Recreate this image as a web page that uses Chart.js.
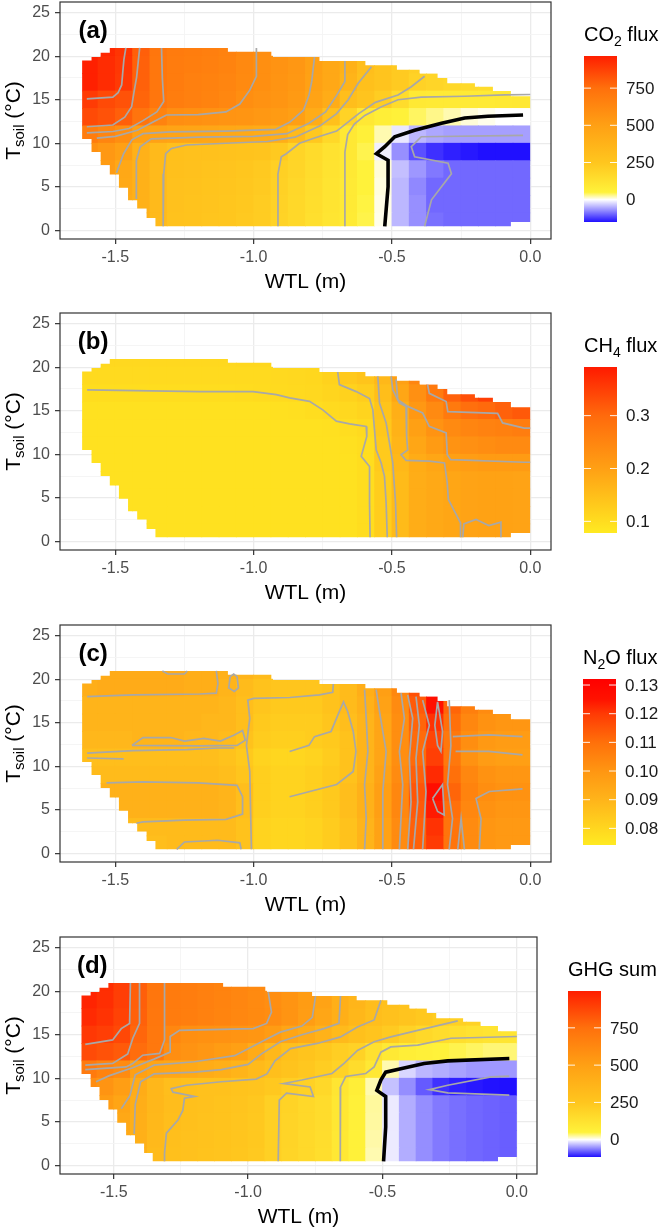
<!DOCTYPE html>
<html>
<head>
<meta charset="utf-8">
<title>GHG flux surfaces</title>
<script src="https://cdn.jsdelivr.net/npm/chart.js@4.4.1/dist/chart.umd.min.js"></script>
<style>
  body { margin: 0; background: #fff; }
  #page { position: relative; width: 664px; height: 1229px; overflow: hidden; }
  .panel { position: absolute; left: 0; width: 664px; height: 294px; }
</style>
</head>
<body>
<div id="page">
  <div class="panel" style="top:0px"><canvas id="panelA"></canvas></div>
  <div class="panel" style="top:311px"><canvas id="panelB"></canvas></div>
  <div class="panel" style="top:623px"><canvas id="panelC"></canvas></div>
  <div class="panel" style="top:935px"><canvas id="panelD"></canvas></div>
</div>
<script>
// ---- data ----
var xGrid = [-1.5, -1.25, -1.0, -0.75, -0.5, -0.25, 0.0];
var yGrid = [0, 2.5, 5, 7.5, 10, 12.5, 15, 17.5, 20, 22.5, 25];

// centres of the value cells (WTL in m, Tsoil in degC)
var wtlCentres = [-1.59375, -1.53125, -1.46875, -1.40625, -1.34375, -1.28125, -1.21875, -1.15625, -1.09375, -1.03125, -0.96875, -0.90625, -0.84375, -0.78125, -0.71875, -0.65625, -0.59375, -0.53125, -0.46875, -0.40625, -0.34375, -0.28125, -0.21875, -0.15625, -0.09375, -0.03125];
var tsoilCentres = [21, 19, 17, 15, 13, 11, 9, 7, 5, 3, 1];
var cellW = 0.0625, cellH = 2;

// outline of the sampled WTL / Tsoil space
var domainWtl = [-1.620, -1.620, -1.586, -1.586, -1.553, -1.553, -1.520, -1.520, -1.093, -1.093, -0.930, -0.930, -0.762, -0.762, -0.596, -0.596, -0.482, -0.482, -0.400, -0.400, -0.335, -0.335, -0.300, -0.300, -0.200, -0.200, -0.135, -0.135, -0.070, -0.070, 0, 0, -0.070, -0.070, -1.355, -1.355, -1.387, -1.387, -1.421, -1.421, -1.454, -1.454, -1.487, -1.487, -1.520, -1.520, -1.553, -1.553, -1.586, -1.586];
var domainTsoil = [10.5, 19.5, 19.5, 19.9, 19.9, 20.4, 20.4, 20.95, 20.95, 20.5, 20.5, 19.9, 19.9, 19.45, 19.45, 18.95, 18.95, 18.45, 18.45, 18.0, 18.0, 17.5, 17.5, 16.9, 16.9, 16.5, 16.5, 16.0, 16.0, 15.4, 15.4, 0.96, 0.96, 0.46, 0.46, 1.4, 1.4, 2.5, 2.5, 3.45, 3.45, 4.9, 4.9, 6.4, 6.4, 7.5, 7.5, 9.0, 9.0, 10.5];

var co2Grid = [
  [null, 940, 905, 795, 720, 695, 680, 670, 655, 625, 595, null, null, null, null, null, null, null, null, null, null, null, null, null, null, null],
  [960, 930, 900, 790, 715, 690, 675, 665, 650, 620, 590, 570, 545, 500, 450, 390, 305, 260, 230, 210, 195, null, null, null, null, null],
  [960, 930, 895, 790, 715, 685, 665, 655, 640, 615, 590, 565, 540, 495, 445, 370, 290, 260, 230, 195, 180, 170, 160, 150, 140, null],
  [890, 850, 830, 780, 720, 680, 665, 650, 630, 595, 575, 555, 530, 480, 420, 300, 260, 220, 150, 90, 85, 85, 85, 85, 90, 95],
  [850, 830, 795, 730, 650, 595, 585, 575, 565, 555, 540, 525, 505, 420, 290, 190, 95, 70, 55, 40, 30, 20, 10, 5, 0, 0],
  [690, 640, 595, 500, 485, 475, 465, 458, 450, 440, 430, 405, 330, 240, 170, 95, 60, 20, -15, -45, -55, -60, -60, -60, -60, -60],
  [580, 540, 500, 385, 330, 290, 285, 280, 275, 270, 260, 235, 185, 155, 125, 95, 45, -10, -70, -110, -130, -140, -145, -150, -150, -150],
  [null, 520, 450, 390, 330, 290, 280, 270, 260, 250, 235, 205, 180, 150, 120, 90, 50, 10, -40, -65, -85, -95, -95, -95, -95, -95],
  [null, null, 440, 390, 330, 285, 275, 265, 255, 245, 230, 200, 175, 145, 115, 88, 50, 8, -45, -75, -95, -95, -95, -95, -95, -95],
  [null, null, 430, 390, 330, 280, 270, 260, 250, 240, 225, 195, 170, 140, 112, 85, 48, 6, -45, -70, -95, -95, -95, -95, -95, -95],
  [null, null, null, 390, 328, 278, 268, 258, 248, 238, 222, 192, 168, 138, 110, 84, 46, 5, -45, -70, -90, -95, -95, -95, -95, -95]
];
var ch4Grid = [
  [null, 0.108, 0.108, 0.108, 0.108, 0.108, 0.108, 0.108, 0.108, 0.109, 0.110, null, null, null, null, null, null, null, null, null, null, null, null, null, null, null],
  [0.104, 0.104, 0.104, 0.104, 0.104, 0.104, 0.104, 0.104, 0.104, 0.105, 0.105, 0.106, 0.108, 0.110, 0.118, 0.132, 0.140, 0.160, 0.200, 0.250, 0.290, null, null, null, null, null],
  [0.100, 0.100, 0.100, 0.100, 0.100, 0.100, 0.100, 0.100, 0.100, 0.101, 0.102, 0.104, 0.106, 0.108, 0.112, 0.118, 0.125, 0.150, 0.190, 0.230, 0.270, 0.310, 0.330, 0.350, 0.360, null],
  [0.093, 0.093, 0.093, 0.093, 0.093, 0.093, 0.093, 0.093, 0.093, 0.093, 0.093, 0.094, 0.096, 0.100, 0.104, 0.107, 0.115, 0.140, 0.175, 0.215, 0.240, 0.270, 0.290, 0.300, 0.310, 0.320],
  [0.093, 0.093, 0.093, 0.093, 0.093, 0.093, 0.093, 0.093, 0.093, 0.093, 0.093, 0.093, 0.093, 0.093, 0.094, 0.099, 0.105, 0.135, 0.170, 0.200, 0.225, 0.240, 0.250, 0.255, 0.260, 0.265],
  [0.093, 0.093, 0.093, 0.093, 0.093, 0.093, 0.093, 0.093, 0.093, 0.093, 0.093, 0.093, 0.093, 0.093, 0.093, 0.095, 0.100, 0.130, 0.165, 0.190, 0.210, 0.225, 0.230, 0.235, 0.240, 0.240],
  [0.093, 0.093, 0.093, 0.093, 0.093, 0.093, 0.093, 0.093, 0.093, 0.093, 0.093, 0.093, 0.093, 0.093, 0.093, 0.093, 0.100, 0.130, 0.160, 0.180, 0.190, 0.200, 0.205, 0.210, 0.210, 0.210],
  [null, 0.093, 0.093, 0.093, 0.093, 0.093, 0.093, 0.093, 0.093, 0.093, 0.093, 0.093, 0.093, 0.093, 0.093, 0.093, 0.100, 0.125, 0.155, 0.178, 0.185, 0.190, 0.195, 0.197, 0.197, 0.195],
  [null, null, 0.093, 0.093, 0.093, 0.093, 0.093, 0.093, 0.093, 0.093, 0.093, 0.093, 0.093, 0.093, 0.093, 0.093, 0.100, 0.125, 0.155, 0.178, 0.185, 0.190, 0.195, 0.197, 0.197, 0.195],
  [null, null, 0.093, 0.093, 0.093, 0.093, 0.093, 0.093, 0.093, 0.093, 0.093, 0.093, 0.093, 0.093, 0.093, 0.093, 0.100, 0.125, 0.155, 0.178, 0.185, 0.190, 0.195, 0.197, 0.197, 0.195],
  [null, null, null, 0.093, 0.093, 0.093, 0.093, 0.093, 0.093, 0.093, 0.093, 0.093, 0.093, 0.093, 0.093, 0.093, 0.100, 0.125, 0.155, 0.178, 0.185, 0.190, 0.195, 0.197, 0.197, 0.195]
];
var n2oGrid = [
  [null, 0.093, 0.093, 0.093, 0.093, 0.093, 0.092, 0.092, 0.091, 0.090, 0.088, null, null, null, null, null, null, null, null, null, null, null, null, null, null, null],
  [0.092, 0.093, 0.093, 0.093, 0.093, 0.093, 0.092, 0.092, 0.090, 0.088, 0.086, 0.085, 0.085, 0.085, 0.086, 0.088, 0.092, 0.097, 0.104, 0.116, 0.128, null, null, null, null, null],
  [0.090, 0.090, 0.090, 0.090, 0.090, 0.090, 0.090, 0.090, 0.089, 0.087, 0.085, 0.084, 0.084, 0.084, 0.086, 0.088, 0.091, 0.096, 0.103, 0.114, 0.126, 0.112, 0.106, 0.103, 0.102, null],
  [0.090, 0.090, 0.090, 0.090, 0.090, 0.090, 0.090, 0.089, 0.089, 0.087, 0.084, 0.083, 0.083, 0.083, 0.085, 0.087, 0.090, 0.095, 0.102, 0.112, 0.121, 0.110, 0.104, 0.101, 0.100, 0.100],
  [0.089, 0.089, 0.089, 0.090, 0.090, 0.090, 0.089, 0.089, 0.088, 0.086, 0.083, 0.082, 0.082, 0.083, 0.084, 0.086, 0.090, 0.095, 0.102, 0.111, 0.118, 0.108, 0.102, 0.099, 0.098, 0.098],
  [0.087, 0.087, 0.087, 0.087, 0.087, 0.087, 0.087, 0.087, 0.086, 0.084, 0.081, 0.080, 0.080, 0.081, 0.083, 0.086, 0.090, 0.095, 0.102, 0.111, 0.119, 0.108, 0.101, 0.098, 0.097, 0.097],
  [0.088, 0.088, 0.088, 0.088, 0.088, 0.088, 0.088, 0.088, 0.087, 0.085, 0.082, 0.081, 0.081, 0.082, 0.084, 0.086, 0.090, 0.096, 0.103, 0.113, 0.122, 0.110, 0.104, 0.101, 0.100, 0.100],
  [null, 0.091, 0.091, 0.091, 0.091, 0.091, 0.091, 0.091, 0.090, 0.087, 0.082, 0.081, 0.081, 0.082, 0.084, 0.087, 0.091, 0.097, 0.104, 0.115, 0.127, 0.112, 0.105, 0.102, 0.101, 0.101],
  [null, null, 0.091, 0.091, 0.091, 0.091, 0.091, 0.091, 0.090, 0.087, 0.082, 0.081, 0.081, 0.082, 0.084, 0.087, 0.091, 0.097, 0.104, 0.114, 0.124, 0.110, 0.104, 0.101, 0.100, 0.100],
  [null, null, 0.088, 0.088, 0.088, 0.088, 0.088, 0.088, 0.088, 0.086, 0.081, 0.080, 0.080, 0.081, 0.083, 0.086, 0.090, 0.096, 0.103, 0.113, 0.121, 0.109, 0.103, 0.100, 0.099, 0.099],
  [null, null, null, 0.087, 0.087, 0.088, 0.088, 0.088, 0.088, 0.086, 0.081, 0.080, 0.080, 0.081, 0.083, 0.086, 0.090, 0.096, 0.103, 0.113, 0.120, 0.109, 0.103, 0.100, 0.099, 0.099]
];
var ghgGrid = [
  [null, 950, 900, 800, 720, 695, 680, 665, 650, 635, 615, null, null, null, null, null, null, null, null, null, null, null, null, null, null, null],
  [980, 950, 900, 800, 720, 695, 680, 665, 650, 635, 615, 595, 560, 520, 480, 400, 360, 310, 290, 270, 250, null, null, null, null, null],
  [960, 935, 890, 795, 715, 690, 675, 660, 645, 630, 615, 600, 560, 515, 460, 400, 350, 305, 280, 260, 240, 220, 205, 195, null, null],
  [920, 900, 870, 780, 710, 630, 590, 580, 575, 565, 550, 520, 470, 430, 380, 330, 290, 260, 230, 195, 170, 150, 135, 125, 115, 110],
  [860, 840, 815, 760, 710, 595, 570, 545, 520, 500, 430, 340, 290, 265, 240, 215, 195, 130, 90, 70, 60, 50, 45, 40, 35, 35],
  [700, 650, 610, 500, 470, 460, 440, 420, 400, 370, 330, 295, 270, 245, 220, 195, 150, 95, 20, -20, -35, -40, -45, -50, -50, -50],
  [600, 560, 510, 420, 350, 305, 290, 285, 280, 270, 260, 240, 215, 200, 170, 110, 70, 20, -30, -55, -80, -100, -108, -112, -115, -116],
  [null, 520, 470, 410, 350, 310, 290, 280, 270, 260, 245, 205, 190, 170, 150, 100, 60, 25, -10, -40, -55, -65, -70, -74, -76, -78],
  [null, null, 450, 400, 345, 305, 288, 278, 268, 258, 243, 205, 188, 168, 148, 98, 58, 24, -10, -40, -55, -65, -70, -74, -76, -78],
  [null, null, 440, 395, 335, 298, 285, 275, 265, 255, 240, 205, 185, 165, 145, 96, 56, 22, -10, -40, -55, -65, -70, -74, -76, -78],
  [null, null, null, 390, 320, 292, 280, 270, 260, 250, 236, 204, 184, 162, 140, 95, 55, 20, -10, -40, -55, -65, -70, -74, -76, -78]
];

// contour lines, [WTL, Tsoil] points
var co2Lines = [
  [[-1.603, 15.1], [-1.509, 15.3], [-1.49, 15.8], [-1.477, 16.7], [-1.473, 18.2], [-1.469, 19.6], [-1.462, 20.95]],
  [[-1.603, 11.9], [-1.509, 12.1], [-1.466, 13.0], [-1.441, 14.2], [-1.433, 15.8], [-1.423, 17.6], [-1.412, 20.95]],
  [[-1.603, 11.2], [-1.509, 11.35], [-1.45, 11.7], [-1.40, 12.6], [-1.35, 13.6], [-1.325, 14.8], [-1.33, 17.5], [-1.333, 20.95]],
  [[-0.99, 20.95], [-0.99, 17.7], [-1.014, 16.1], [-1.05, 14.5], [-1.10, 13.6], [-1.20, 13.3], [-1.315, 13.25], [-1.36, 12.5], [-1.42, 11.5], [-1.50, 10.8], [-1.567, 10.6]],
  [[-0.78, 19.9], [-0.79, 17.1], [-0.80, 15.5], [-0.82, 13.8], [-0.87, 12.4], [-0.92, 11.6], [-1.1, 11.4], [-1.3, 11.3], [-1.40, 11.1], [-1.44, 10.4], [-1.47, 8.8], [-1.496, 6.6]],
  [[-0.67, 19.45], [-0.67, 17.1], [-0.70, 15.5], [-0.74, 13.6], [-0.80, 12.3], [-0.88, 11.1], [-1.0, 10.8], [-1.2, 10.7], [-1.37, 10.5], [-1.41, 9.6], [-1.424, 8.0], [-1.424, 3.6]],
  [[-0.574, 18.8], [-0.622, 16.9], [-0.658, 15.0], [-0.70, 13.4], [-0.76, 12.0], [-0.85, 10.7], [-0.95, 10.2], [-1.1, 10.0], [-1.243, 9.8], [-1.297, 9.4], [-1.318, 8.8], [-1.325, 6.5], [-1.327, 0.46]],
  [[-0.382, 17.7], [-0.43, 16.5], [-0.478, 15.55], [-0.56, 14.7], [-0.62, 13.4], [-0.66, 12.4], [-0.70, 11.4], [-0.78, 10.6], [-0.834, 10.0], [-0.882, 8.8], [-0.9, 8.45], [-0.912, 6.5], [-0.912, 0.46]],
  [[0, 15.6], [-0.093, 15.55], [-0.237, 15.4], [-0.394, 15.3], [-0.478, 15.0], [-0.538, 14.2], [-0.598, 13.2], [-0.636, 12.2], [-0.66, 11.0], [-0.67, 9.0], [-0.67, 4], [-0.67, 0.46]],
  [[-0.026, 10.9], [-0.394, 10.75], [-0.43, 9.6], [-0.418, 8.45], [-0.297, 7.7], [-0.285, 6.5], [-0.321, 5.0], [-0.357, 3.5], [-0.382, 0.46]]
];
var co2Zero = [[-0.026, 13.25], [-0.153, 13.1], [-0.237, 12.9], [-0.321, 12.3], [-0.418, 11.5], [-0.49, 10.75], [-0.526, 9.6], [-0.556, 8.8], [-0.514, 8.05], [-0.514, 5.0], [-0.526, 0.46]];

var ch4Lines = [
  [[-1.602, 17.4], [-1.195, 17.2], [-1.002, 17.2], [-0.918, 16.85], [-0.870, 16.47], [-0.798, 16.08], [-0.750, 15.1], [-0.701, 13.8], [-0.653, 13.5], [-0.593, 13.2], [-0.591, 12.05], [-0.611, 9.77], [-0.581, 8.6], [-0.581, 4.4], [-0.579, 0.46]],
  [[-0.696, 19.45], [-0.690, 18.0], [-0.629, 17.2], [-0.581, 16.4], [-0.569, 15.1], [-0.563, 12.8], [-0.557, 10.5], [-0.539, 9.0], [-0.527, 7.46], [-0.521, 4.4], [-0.517, 0.46]],
  [[-0.551, 18.95], [-0.545, 15.9], [-0.521, 13.6], [-0.509, 11.3], [-0.497, 9.0], [-0.487, 4.4], [-0.483, 0.46]],
  [[-0.503, 18.95], [-0.497, 17.4], [-0.473, 15.9], [-0.449, 15.5], [-0.447, 12.05], [-0.443, 10.5], [-0.467, 9.95], [-0.449, 9.3], [-0.365, 9.2], [-0.310, 9.0], [-0.300, 6.7], [-0.296, 4.8], [-0.268, 3.1], [-0.252, 2.1], [-0.252, 0.46]],
  [[-0.244, 0.46], [-0.24, 2.0], [-0.196, 2.5], [-0.15, 1.8], [-0.106, 2.2], [-0.106, 0.46]],
  [[-0.485, 18.6], [-0.479, 16.27], [-0.443, 15.5], [-0.389, 14.74], [-0.365, 13.2], [-0.304, 12.45], [-0.300, 9.96], [-0.288, 9.38], [-0.022, 9.08], [0, 9.08]],
  [[-0.371, 18.0], [-0.365, 17.0], [-0.304, 16.05], [-0.298, 14.9], [-0.118, 14.7], [-0.100, 13.6], [-0.022, 13.0], [0, 13.0]]
];

var n2oLines = [
  [[-1.602, 18.0], [-1.436, 18.2], [-1.195, 18.3], [-1.135, 18.4], [-1.129, 19.5], [-1.135, 20.95]],
  [[-1.33, 20.95], [-1.31, 20.6], [-1.25, 20.6], [-1.24, 20.95]],
  [[-1.085, 20.3], [-1.09, 19.0], [-1.07, 18.6], [-1.055, 19.0], [-1.06, 20.3], [-1.072, 20.6], [-1.085, 20.3]],
  [[-1.44, 12.4], [-1.40, 13.3], [-1.30, 13.3], [-1.25, 12.9], [-1.18, 13.2], [-1.12, 12.9], [-1.07, 13.6], [-1.04, 14.1], [-1.03, 13.0], [-1.06, 12.4], [-1.20, 12.35], [-1.44, 12.4]],
  [[-1.602, 11.5], [-1.436, 11.8], [-1.24, 11.9], [-1.13, 12.1], [-1.07, 12.1]],
  [[-1.602, 10.95], [-1.47, 10.85]],
  [[-1.532, 8.1], [-1.40, 8.2], [-1.20, 8.1], [-1.06, 7.8], [-1.04, 6.5], [-1.04, 4.5], [-1.10, 3.9], [-1.25, 3.8], [-1.40, 3.6], [-1.424, 3.45]],
  [[-1.278, 0.46], [-1.25, 1.3], [-1.13, 1.5], [-1.05, 1.2], [-1.045, 0.46]],
  [[-0.712, 19.45], [-0.714, 18.5], [-0.762, 18.2], [-0.87, 17.9], [-1.0, 17.8], [-1.021, 17.6], [-1.014, 15.5], [-1.026, 12.4], [-1.014, 9.4], [-1.008, 0.46]],
  [[-0.87, 11.7], [-0.80, 12.4], [-0.78, 13.4], [-0.72, 14.0], [-0.69, 16.3], [-0.675, 17.4], [-0.66, 16.3], [-0.64, 14.0], [-0.63, 11.7], [-0.64, 9.4], [-0.70, 7.9], [-0.87, 6.5]],
  [[-0.599, 18.8], [-0.593, 15.5], [-0.587, 11.7], [-0.599, 7.9], [-0.593, 4.0], [-0.599, 0.46]],
  [[-0.557, 18.8], [-0.545, 16.3], [-0.521, 11.7], [-0.533, 7.1], [-0.533, 0.46]],
  [[-0.467, 18.4], [-0.455, 15.5], [-0.473, 11.7], [-0.461, 7.9], [-0.473, 0.46]],
  [[-0.443, 18.2], [-0.425, 15.5], [-0.437, 10.9], [-0.431, 5.9], [-0.443, 0.46]],
  [[-0.413, 18.0], [-0.401, 14.7], [-0.413, 10.9], [-0.407, 5.9], [-0.422, 0.46]],
  [[-0.389, 17.6], [-0.365, 14.7], [-0.389, 11.7], [-0.377, 7.1], [-0.389, 0.46]],
  [[-0.335, 17.4], [-0.317, 14.0], [-0.323, 11.7], [-0.335, 12.4], [-0.345, 14.7], [-0.335, 17.4]],
  [[-0.353, 6.3], [-0.317, 7.9], [-0.311, 4.4], [-0.335, 4.8], [-0.353, 6.3]],
  [[-0.293, 17.6], [-0.287, 12.4], [-0.299, 7.9], [-0.281, 4.0], [-0.293, 0.46]],
  [[-0.262, 0.46], [-0.250, 4.0], [-0.238, 0.46]],
  [[-0.184, 0.46], [-0.178, 4.0], [-0.196, 6.3], [-0.148, 7.1], [-0.028, 7.4]],
  [[-0.28, 13.4], [-0.15, 13.6], [-0.028, 13.4]],
  [[-0.27, 11.7], [-0.15, 11.7], [-0.028, 11.3]]
];

var ghgLines = [
  [[-1.606, 13.9], [-1.504, 14.4], [-1.472, 15.7], [-1.441, 16.3], [-1.438, 20.95]],
  [[-1.606, 11.5], [-1.504, 11.7], [-1.448, 12.8], [-1.429, 14.6], [-1.404, 16.3], [-1.404, 20.95]],
  [[-1.606, 11.0], [-1.454, 11.3], [-1.429, 11.7], [-1.392, 12.65], [-1.329, 12.85], [-1.311, 14.4], [-1.311, 20.95]],
  [[-0.925, 19.9], [-0.913, 17.6], [-0.931, 16.3], [-0.981, 15.7], [-1.255, 15.5], [-1.29, 14.8], [-1.29, 13.0], [-1.35, 12.2], [-1.43, 11.2], [-1.516, 10.3], [-1.566, 9.6]],
  [[-0.749, 19.45], [-0.761, 17.0], [-0.80, 16.0], [-0.88, 15.3], [-0.95, 14.2], [-1.05, 12.6], [-1.2, 11.9], [-1.35, 11.5], [-1.42, 10.4], [-1.44, 8.0], [-1.472, 6.5]],
  [[-0.656, 19.45], [-0.662, 16.3], [-0.718, 15.7], [-0.80, 15.0], [-0.88, 14.2], [-0.95, 12.8], [-1.0, 11.6], [-1.1, 11.0], [-1.2, 10.7], [-1.35, 10.5], [-1.40, 9.6], [-1.42, 7.0], [-1.424, 3.6]],
  [[-0.506, 18.95], [-0.531, 16.7], [-0.593, 15.9], [-0.656, 14.75], [-0.743, 14.0], [-0.842, 13.4], [-0.90, 12.0], [-0.93, 10.5], [-0.97, 9.9], [-1.10, 9.6], [-1.23, 9.2], [-1.286, 8.8], [-1.280, 8.4], [-1.199, 7.9], [-1.237, 7.7], [-1.243, 6.3], [-1.261, 5.2], [-1.304, 3.7], [-1.311, 1.4], [-1.311, 0.46]],
  [[-0.220, 16.6], [-0.369, 15.5], [-0.469, 14.75], [-0.531, 14.2], [-0.593, 13.2], [-0.643, 11.7], [-0.688, 10.55], [-0.80, 9.8], [-0.868, 9.4], [-0.769, 9.0], [-0.757, 7.9], [-0.857, 8.3], [-0.884, 7.5], [-0.888, 0.46]],
  [[0, 14.8], [-0.245, 14.6], [-0.369, 13.8], [-0.469, 13.6], [-0.506, 13.0], [-0.531, 11.3], [-0.562, 10.55], [-0.637, 10.2], [-0.656, 9.0], [-0.658, 6.0], [-0.656, 0.46]],
  [[-0.028, 10.24], [-0.096, 10.16], [-0.257, 9.2], [-0.326, 8.7], [-0.257, 8.33], [-0.028, 8.06]]
];
var ghgZero = [[-0.028, 12.27], [-0.257, 12.0], [-0.345, 11.7], [-0.432, 11.1], [-0.488, 10.7], [-0.506, 9.8], [-0.521, 8.6], [-0.488, 7.9], [-0.488, 4.4], [-0.496, 0.46]];

// colour bars: [value, colour]
var co2Colours = [[-150, '#2010ff'], [0, '#ffffff'], [50, '#fff23a'], [250, '#ffc61e'], [500, '#ffa014'], [750, '#ff700c'], [966, '#ff1e00']];
var ch4Colours = [[0.078, '#ffea22'], [0.2, '#ffa014'], [0.3, '#ff6a0c'], [0.392, '#ff1a00']];
var n2oColours = [[0.0742, '#ffea22'], [0.09, '#ffb41a'], [0.10, '#ff9612'], [0.11, '#ff700a'], [0.12, '#ff3a04'], [0.125, '#ff1200'], [0.1321, '#ff0000']];
var ghgColours = [[-116, '#2010ff'], [0, '#ffffff'], [50, '#fff23a'], [250, '#ffc61e'], [500, '#ffa014'], [750, '#ff700c'], [997, '#ff1e00']];

var co2Breaks = [0, 250, 500, 750];
var ch4Breaks = [0.1, 0.2, 0.3];
var n2oBreaks = [0.08, 0.09, 0.10, 0.11, 0.12, 0.13];
var ghgBreaks = [0, 250, 500, 750];

// ---- drawing ----
var FONT = "'Liberation Sans', Arial, Helvetica, sans-serif";

function hexToRgb(h) {
  var n = parseInt(h.slice(1), 16);
  return [(n >> 16) & 255, (n >> 8) & 255, n & 255];
}

function colourFor(v, stops) {
  if (v <= stops[0][0]) return stops[0][1];
  for (var i = 1; i < stops.length; i++) {
    if (v <= stops[i][0]) {
      var a = hexToRgb(stops[i - 1][1]), b = hexToRgb(stops[i][1]);
      var t = (v - stops[i - 1][0]) / (stops[i][0] - stops[i - 1][0]);
      return 'rgb(' + [0, 1, 2].map(function (k) { return Math.round(a[k] + (b[k] - a[k]) * t); }).join(',') + ')';
    }
  }
  return stops[stops.length - 1][1];
}

function isMajor(v, step) {
  return Math.abs(v / step - Math.round(v / step)) < 1e-6;
}

function heatPlugin(p) {
  return {
    id: 'heat',
    beforeDatasetsDraw: function (chart) {
      var sx = chart.scales.x, sy = chart.scales.y, ctx = chart.ctx;
      ctx.save();
      ctx.beginPath();
      domainWtl.forEach(function (w, i) {
        var px = sx.getPixelForValue(w), py = sy.getPixelForValue(domainTsoil[i]);
        if (i === 0) ctx.moveTo(px, py); else ctx.lineTo(px, py);
      });
      ctx.closePath();
      ctx.clip();
      p.grid.forEach(function (row, r) {
        row.forEach(function (v, c) {
          if (v === null) return;
          var x0 = sx.getPixelForValue(wtlCentres[c] - cellW / 2);
          var x1 = sx.getPixelForValue(wtlCentres[c] + cellW / 2);
          var y0 = sy.getPixelForValue(tsoilCentres[r] + cellH / 2);
          var y1 = sy.getPixelForValue(tsoilCentres[r] - cellH / 2);
          ctx.fillStyle = colourFor(v, p.colours);
          ctx.fillRect(x0 - 0.4, y0 - 0.4, x1 - x0 + 0.8, y1 - y0 + 0.8);
        });
      });
      ctx.restore();
    }
  };
}

function decorPlugin(p) {
  return {
    id: 'decor',
    afterDraw: function (chart) {
      var ctx = chart.ctx, ca = chart.chartArea;
      var sx = chart.scales.x, sy = chart.scales.y;
      ctx.save();
      // panel border
      ctx.strokeStyle = '#333333';
      ctx.lineWidth = 1.2;
      ctx.strokeRect(ca.left, ca.top, ca.right - ca.left, ca.bottom - ca.top);

      // panel tag
      ctx.fillStyle = '#000';
      ctx.font = 'bold 24px ' + FONT;
      ctx.textAlign = 'center';
      ctx.textBaseline = 'middle';
      ctx.fillText(p.tag, sx.getPixelForValue(-1.58), sy.getPixelForValue(22.9));

      // x title
      ctx.font = '21px ' + FONT;
      ctx.fillText('WTL (m)', (ca.left + ca.right) / 2, ca.bottom + 43);

      // y title with subscript, rotated
      ctx.save();
      ctx.translate(12, (ca.top + ca.bottom) / 2);
      ctx.rotate(-Math.PI / 2);
      ctx.textAlign = 'left';
      ctx.textBaseline = 'alphabetic';
      ctx.font = '21px ' + FONT;
      var wT = ctx.measureText('T').width, wRest = ctx.measureText(' (°C)').width;
      ctx.font = '15px ' + FONT;
      var wSub = ctx.measureText('soil').width;
      var x0 = -(wT + wSub + wRest) / 2;
      ctx.font = '21px ' + FONT;
      ctx.fillText('T', x0, 7.5);
      ctx.font = '15px ' + FONT;
      ctx.fillText('soil', x0 + wT, 12);
      ctx.font = '21px ' + FONT;
      ctx.fillText(' (°C)', x0 + wT + wSub, 7.5);
      ctx.restore();

      // colour bar legend
      var L = p.legendLeft, top = 56, bottom = 222, W = 33;
      var lo = p.colours[0][0], hi = p.colours[p.colours.length - 1][0];
      var grad = ctx.createLinearGradient(0, bottom, 0, top);
      p.colours.forEach(function (s) { grad.addColorStop((s[0] - lo) / (hi - lo), s[1]); });
      ctx.fillStyle = grad;
      ctx.fillRect(L, top, W, bottom - top);

      ctx.textAlign = 'left';
      ctx.textBaseline = 'alphabetic';
      ctx.fillStyle = '#000';
      ctx.font = '20px ' + FONT;
      ctx.fillText(p.title[0], L, 41);
      var w0 = ctx.measureText(p.title[0]).width;
      ctx.font = '14px ' + FONT;
      ctx.fillText(p.title[1], L + w0, 46);
      var w1 = ctx.measureText(p.title[1]).width;
      ctx.font = '20px ' + FONT;
      ctx.fillText(p.title[2], L + w0 + w1, 41);

      ctx.font = '17px ' + FONT;
      ctx.textBaseline = 'middle';
      ctx.fillStyle = '#1a1a1a';
      p.breaks.forEach(function (b) {
        var yy = bottom - (b - lo) / (hi - lo) * (bottom - top);
        ctx.strokeStyle = 'rgba(255,255,255,0.9)';
        ctx.lineWidth = 1;
        ctx.beginPath();
        ctx.moveTo(L, yy); ctx.lineTo(L + 7, yy);
        ctx.moveTo(L + W - 7, yy); ctx.lineTo(L + W, yy);
        ctx.stroke();
        ctx.fillText(b.toFixed(p.digits), L + W + 9, yy + 1);
      });
      ctx.restore();
    }
  };
}

function lineSet(lines, colour, width) {
  return lines.map(function (line) {
    return {
      data: line.map(function (pt) { return { x: pt[0], y: pt[1] }; }),
      showLine: true, borderColor: colour, borderWidth: width,
      pointRadius: 0, pointHoverRadius: 0, tension: 0, fill: false
    };
  });
}

function buildPanel(p) {
  var datasets = lineSet(p.lines, '#a8a8a8', 1.7);
  if (p.zero) datasets = datasets.concat(lineSet([p.zero], '#000000', 3.6));
  return new Chart(document.getElementById(p.canvas), {
    type: 'scatter',
    data: { datasets: datasets },
    options: {
      responsive: true,
      maintainAspectRatio: false,
      animation: false,
      events: [],
      layout: { padding: { top: 2, right: 664 - p.plotRight, left: 0, bottom: 0 } },
      plugins: { legend: { display: false }, tooltip: { enabled: false } },
      scales: {
        x: {
          type: 'linear', min: -1.70, max: 0.075,
          afterBuildTicks: function (s) { s.ticks = xGrid.map(function (v) { return { value: v }; }); },
          afterFit: function (s) { s.height = 55; s.paddingLeft = 0; s.paddingRight = 0; },
          border: { display: false },
          grid: {
            color: function (c) { return c.tick && isMajor(c.tick.value, 0.5) ? '#ebebeb' : '#f4f4f4'; },
            lineWidth: function (c) { return c.tick && isMajor(c.tick.value, 0.5) ? 1.3 : 0.9; },
            tickColor: function (c) { return c.tick && isMajor(c.tick.value, 0.5) ? '#333333' : 'rgba(0,0,0,0)'; },
            tickLength: 5, tickWidth: 1.2
          },
          ticks: {
            autoSkip: false, maxRotation: 0, padding: 4, color: '#4d4d4d',
            font: { family: FONT, size: 16 },
            callback: function (v) { return isMajor(v, 0.5) ? v.toFixed(1) : ''; }
          }
        },
        y: {
          type: 'linear', min: -1.0, max: 26.23,
          afterBuildTicks: function (s) { s.ticks = yGrid.map(function (v) { return { value: v }; }); },
          afterFit: function (s) { s.width = 60; s.paddingTop = 0; s.paddingBottom = 0; },
          border: { display: false },
          grid: {
            color: function (c) { return c.tick && isMajor(c.tick.value, 5) ? '#ebebeb' : '#f4f4f4'; },
            lineWidth: function (c) { return c.tick && isMajor(c.tick.value, 5) ? 1.3 : 0.9; },
            tickColor: function (c) { return c.tick && isMajor(c.tick.value, 5) ? '#333333' : 'rgba(0,0,0,0)'; },
            tickLength: 5, tickWidth: 1.2
          },
          ticks: {
            autoSkip: false, padding: 5, color: '#4d4d4d',
            font: { family: FONT, size: 16 },
            callback: function (v) { return isMajor(v, 5) ? String(v) : ''; }
          }
        }
      }
    },
    plugins: [heatPlugin(p), decorPlugin(p)]
  });
}

buildPanel({ canvas: 'panelA', tag: '(a)', grid: co2Grid, lines: co2Lines, zero: co2Zero, colours: co2Colours, breaks: co2Breaks, digits: 0, title: ['CO', '2', ' flux'], plotRight: 551, legendLeft: 584 });
buildPanel({ canvas: 'panelB', tag: '(b)', grid: ch4Grid, lines: ch4Lines, zero: null, colours: ch4Colours, breaks: ch4Breaks, digits: 1, title: ['CH', '4', ' flux'], plotRight: 551, legendLeft: 584 });
buildPanel({ canvas: 'panelC', tag: '(c)', grid: n2oGrid, lines: n2oLines, zero: null, colours: n2oColours, breaks: n2oBreaks, digits: 2, title: ['N', '2', 'O flux'], plotRight: 551, legendLeft: 583 });
buildPanel({ canvas: 'panelD', tag: '(d)', grid: ghgGrid, lines: ghgLines, zero: ghgZero, colours: ghgColours, breaks: ghgBreaks, digits: 0, title: ['GHG sum', '', ''], plotRight: 537, legendLeft: 568 });
</script>
</body>
</html>
